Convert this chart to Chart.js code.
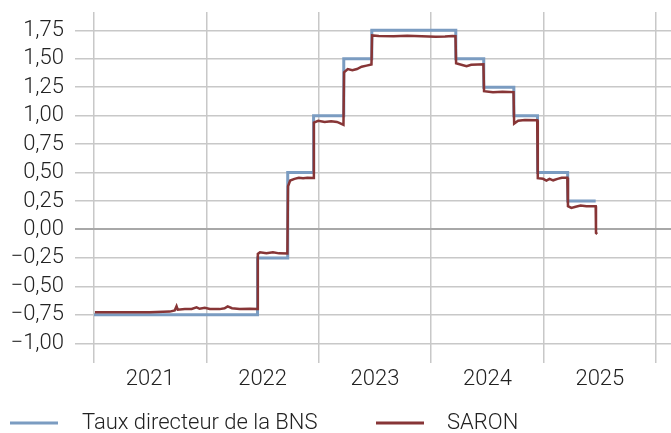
<!DOCTYPE html>
<html>
<head>
<meta charset="utf-8">
<script src="https://cdn.jsdelivr.net/npm/chart.js@4/dist/chart.umd.min.js"></script>
<style>
    html, body { margin: 0; padding: 0; background: #fff; }
    canvas { display: block; }
</style>
</head>
<body>
<canvas id="chartRates" width="671" height="433"></canvas>
<script>
// taux directeur BNS (dates de décision)
const policyDates = ["2021-01-01", "2022-06-16", "2022-09-22", "2022-12-15", "2023-03-23", "2023-06-22",
    "2024-03-21", "2024-06-20", "2024-09-26", "2024-12-12", "2025-03-20", "2025-06-19"];
const policyRates = [-0.75, -0.25, 0.5, 1.0, 1.5, 1.75, 1.5, 1.25, 1.0, 0.5, 0.25, 0.25];

// SARON
const saronDates = [
    "2021-01-04", "2021-03-26", "2021-07-01", "2021-09-04", "2021-09-20", "2021-09-26", "2021-09-30",
    "2021-10-23", "2021-11-14", "2021-11-30", "2021-12-10", "2021-12-27", "2022-01-12", "2022-02-13",
    "2022-03-01", "2022-03-11", "2022-03-25", "2022-04-19", "2022-05-22", "2022-06-16",
    "2022-06-17", "2022-06-24", "2022-07-15", "2022-08-05", "2022-08-25", "2022-09-21",
    "2022-09-23", "2022-09-30", "2022-10-14", "2022-10-28", "2022-11-11", "2022-11-25", "2022-12-14",
    "2022-12-16", "2022-12-30", "2023-01-20", "2023-02-10", "2023-03-01", "2023-03-10", "2023-03-22",
    "2023-03-24", "2023-04-05", "2023-04-20", "2023-05-05", "2023-05-20", "2023-06-05", "2023-06-21",
    "2023-06-23", "2023-07-15", "2023-09-01", "2023-10-15", "2023-12-01", "2024-01-15", "2024-02-15",
    "2024-03-10", "2024-03-20",
    "2024-03-22", "2024-04-05", "2024-04-25", "2024-05-10", "2024-06-01", "2024-06-19",
    "2024-06-21", "2024-07-20", "2024-08-20", "2024-09-25",
    "2024-09-27", "2024-10-10", "2024-11-01", "2024-12-11",
    "2024-12-13", "2024-12-30", "2025-01-10", "2025-01-20", "2025-02-01", "2025-02-15", "2025-03-01", "2025-03-19",
    "2025-03-21", "2025-04-01", "2025-04-15", "2025-05-01", "2025-05-20", "2025-06-19",
    "2025-06-20", "2025-06-24"
];
const saronValues = [
    -0.727, -0.728, -0.727, -0.722, -0.712, -0.674, -0.705,
    -0.700, -0.698, -0.684, -0.697, -0.688, -0.698, -0.700,
    -0.692, -0.676, -0.692, -0.698, -0.697, -0.700,
    -0.215, -0.200, -0.208, -0.200, -0.210, -0.212,
    0.38, 0.43, 0.445, 0.455, 0.45, 0.455, 0.452,
    0.94, 0.955, 0.945, 0.95, 0.945, 0.935, 0.92,
    1.38, 1.41, 1.40, 1.41, 1.43, 1.44, 1.45,
    1.705, 1.70, 1.698, 1.702, 1.697, 1.693, 1.696,
    1.70, 1.698,
    1.46, 1.45, 1.435, 1.448, 1.45, 1.452,
    1.215, 1.205, 1.21, 1.207,
    0.93, 0.955, 0.962, 0.96,
    0.45, 0.445, 0.43, 0.445, 0.432, 0.445, 0.455, 0.455,
    0.205, 0.19, 0.20, 0.21, 0.205, 0.205,
    -0.03, -0.04
];

const yTicks = [-1, -0.75, -0.5, -0.25, 0, 0.25, 0.5, 0.75, 1, 1.25, 1.5, 1.75];
const yearTicks = [2021, 2022, 2023, 2024, 2025, 2026];

const seriesNames = ["Taux directeur de la BNS", "SARON"];
const seriesColors = ["#7b9cc1", "#873536"];

// date -> année décimale (pas d'adaptateur de dates)
const toYear = (s) => {
    const [y, m, d] = s.split("-").map(Number);
    const start = Date.UTC(y, 0, 1);
    return y + (Date.UTC(y, m - 1, d) - start) / (Date.UTC(y + 1, 0, 1) - start);
};
const toPoints = (dates, values) => dates.map((d, i) => ({ x: toYear(d), y: values[i] }));

const fmt = (v) => (v < 0 ? "\u2212" : "") + Math.abs(v).toFixed(2).replace(".", ",");

const textColor = "#222222";
const gridColor = "#c8c8c8";
const font = { family: "Roboto", size: 22, weight: 300 };

// légende dessinée à la main pour garder les espacements
const legendPlugin = {
    id: "customLegend",
    afterDraw(chart) {
        const ctx = chart.ctx;
        const y = 423;
        const items = [{ x: 10, text: 82 }, { x: 376, text: 447 }];
        ctx.save();
        ctx.font = "300 22px Roboto";
        ctx.textBaseline = "middle";
        ctx.fillStyle = textColor;
        items.forEach((it, i) => {
            ctx.strokeStyle = seriesColors[i];
            ctx.lineWidth = 3;
            ctx.beginPath();
            ctx.moveTo(it.x, y);
            ctx.lineTo(it.x + 48, y);
            ctx.stroke();
            ctx.fillText(seriesNames[i], it.text, y);
        });
        ctx.restore();
    }
};

new Chart(document.getElementById("chartRates"), {
    type: "line",
    data: {
        datasets: [
            {
                label: seriesNames[0],
                data: toPoints(policyDates, policyRates),
                borderColor: seriesColors[0],
                borderWidth: 3,
                stepped: true,
                pointRadius: 0,
                order: 2
            },
            {
                label: seriesNames[1],
                data: toPoints(saronDates, saronValues),
                borderColor: seriesColors[1],
                borderWidth: 2.5,
                pointRadius: 0,
                order: 1
            }
        ]
    },
    options: {
        responsive: false,
        animation: false,
        devicePixelRatio: 1,
        layout: { padding: { left: 0, right: 0, top: 12, bottom: 36 } },
        plugins: {
            legend: { display: false },
            tooltip: { enabled: false }
        },
        scales: {
            x: {
                type: "linear",
                min: 2020.831,
                max: 2026.133,
                afterBuildTicks: (axis) => {
                    const t = [];
                    yearTicks.forEach((y) => {
                        t.push({ value: y });
                        if (y < 2026) t.push({ value: y + 0.5 });
                    });
                    axis.ticks = t;
                },
                afterFit: (axis) => {
                    axis.paddingLeft = 0;
                    axis.paddingRight = 0;
                },
                grid: {
                    drawTicks: false,
                    lineWidth: 1.5,
                    color: (c) => (c.tick && c.tick.value % 1 === 0 ? gridColor : "rgba(0,0,0,0)")
                },
                border: { display: false },
                ticks: {
                    autoSkip: false,
                    maxRotation: 0,
                    padding: 4,
                    color: textColor,
                    font: font,
                    callback: (v) => (v % 1 !== 0 ? String(Math.floor(v)) : "")
                }
            },
            y: {
                min: -1.17,
                max: 1.911,
                afterBuildTicks: (axis) => {
                    axis.ticks = yTicks.map((v) => ({ value: v }));
                },
                afterFit: (axis) => {
                    axis.width = 75;
                    axis.paddingTop = 0;
                    axis.paddingBottom = 0;
                },
                grid: {
                    drawTicks: false,
                    lineWidth: (c) => (c.tick && c.tick.value === 0 ? 2 : 1.5),
                    color: (c) => (c.tick && c.tick.value === 0 ? "#a8a8a8" : gridColor)
                },
                border: { display: false },
                ticks: {
                    padding: 11,
                    color: textColor,
                    font: font,
                    callback: (v) => fmt(v)
                }
            }
        }
    },
    plugins: [legendPlugin]
});
</script>
</body>
</html>
